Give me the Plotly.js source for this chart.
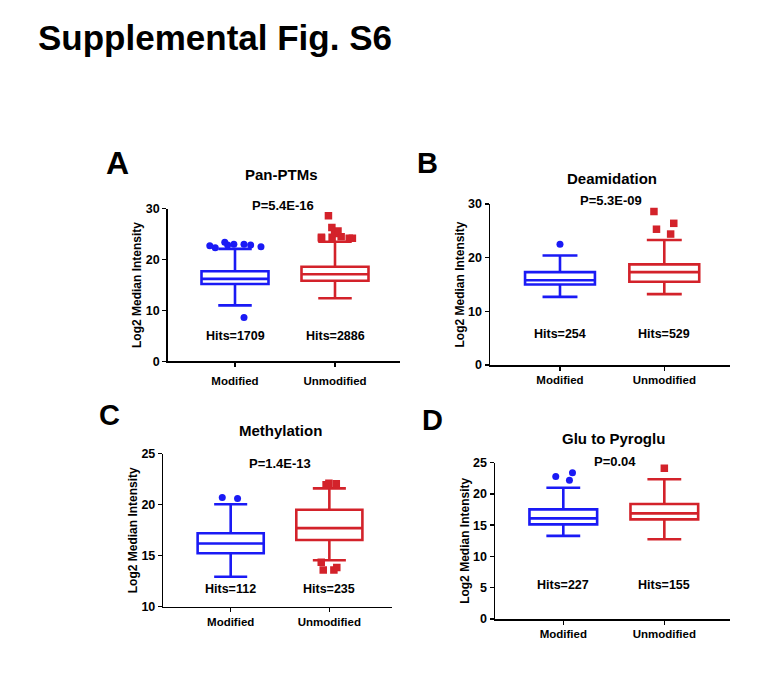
<!DOCTYPE html>
<html><head><meta charset="utf-8">
<script src="https://cdn.plot.ly/plotly-3.0.1.min.js"></script>
<style>html,body{margin:0;padding:0;background:#fff}</style>
</head><body><div id="chart" style="width:767px;height:696px"></div>
<script>
// ---------- data ----------
const groups = ['Modified', 'Unmodified'];
const panelLetters = ['A', 'B', 'C', 'D'];
const panelTitles = ['Pan-PTMs', 'Deamidation', 'Methylation', 'Glu to Pyroglu'];
const pValues = ['P=5.4E-16', 'P=5.3E-09', 'P=1.4E-13', 'P=0.04'];
const hitsModified = [1709, 254, 112, 227];
const hitsUnmodified = [2886, 529, 235, 155];

// box statistics per panel: [Modified, Unmodified]
const q1Values      = [[15.2, 15.85], [15.0, 15.5], [15.24, 16.54], [15.14, 15.94]];
const medianValues  = [[16.2, 17.1],  [15.8, 17.3], [16.2, 17.7],   [16.1, 16.9]];
const q3Values      = [[17.7, 18.6],  [17.3, 18.75],[17.2, 19.5],   [17.54, 18.4]];
const lowerWhiskers = [[11.0, 12.4],  [12.7, 13.2], [12.94, 14.55], [13.3, 12.75]];
const upperWhiskers = [[22.1, 23.5],  [20.4, 23.3], [20.05, 21.6],  [21.0, 22.35]];

const outliersModified = [
  [23.0, 23.0, 22.7, 22.85, 22.3, 22.85, 22.5, 23.4, 8.6],
  [22.5],
  [20.6, 20.7],
  [23.4, 22.8, 22.2]
];
const outliersUnmodified = [
  [24.2, 26.3, 25.1, 24.2, 28.6, 24.5, 25.6, 24.4, 24.4, 24.2],
  [28.6, 26.4, 25.3, 24.4],
  [22.1, 21.95, 22.05, 13.6, 14.35, 13.85, 13.6],
  [24.1]
];

const yRanges = [[0, 30], [0, 30], [10, 25], [0, 25]];
const yDticks = [10, 10, 5, 5];

// ---------- styling / layout geometry ----------
const W = 767, H = 696;
const px = x => x / W;
const py = y => 1 - y / H;
const FONT = 'Arial, "Liberation Sans", Helvetica, sans-serif';
const BLUE = '#1a1af5';
const RED = '#d3222a';

const geom = [
  {xd: [167.7, 400], yd: [361.3, 208.7], xr: [-0.673, 1.65],  jit: 1.0,  lstand: 4},
  {xd: [490, 730],   yd: [365, 204],     xr: [-0.671, 1.63],  jit: 0.35, lstand: 0},
  {xd: [163.3, 392], yd: [606.7, 453.7], xr: [-0.683, 1.635], jit: 0.4,  lstand: 0},
  {xd: [495, 730],   yd: [619, 462.7],   xr: [-0.676, 1.65],  jit: 0.35, lstand: 0}
];
const titlePos  = [[281.7, 175], [612.3, 178.3], [280, 430], [613.5, 438.3]];
const pPos      = [[282.5, 205.7], [611.2, 201], [279.7, 463.3], [615, 461.7]];
const hitsY     = [336, 334, 589.3, 585.3];
const letterPos = [[117, 163.3, 32], [427.5, 163.3, 29], [109.2, 415, 29], [432.5, 420, 29]];

const traces = [];
const layout = {
  width: W, height: H,
  margin: {l: 0, r: 0, t: 0, b: 0},
  paper_bgcolor: '#fff', plot_bgcolor: 'rgba(0,0,0,0)',
  showlegend: false,
  font: {family: FONT, color: '#000'},
  annotations: []
};

layout.annotations.push({
  text: 'Supplemental Fig. S6', xref: 'paper', yref: 'paper',
  x: px(215), y: py(37.7), xanchor: 'center', yanchor: 'middle', showarrow: false,
  font: {family: FONT, size: 35, weight: 700, color: '#000'}
});

for (let p = 0; p < 4; p++) {
  const sfx = p === 0 ? '' : String(p + 1);
  const xa = 'x' + sfx, ya = 'y' + sfx;
  const g = geom[p];
  const outs = [outliersModified[p], outliersUnmodified[p]];
  for (let k = 0; k < 2; k++) {
    const col = k === 0 ? BLUE : RED;
    traces.push({
      type: 'box', xaxis: xa, yaxis: ya,
      x: [groups[k]],
      q1: [q1Values[p][k]], median: [medianValues[p][k]], q3: [q3Values[p][k]],
      lowerfence: [lowerWhiskers[p][k]], upperfence: [upperWhiskers[p][k]],
      y: [outs[k]],
      boxpoints: 'outliers', jitter: g.jit, pointpos: 0,
      width: 0.67, whiskerwidth: 0.5,
      line: {color: col, width: 2.6},
      fillcolor: '#ffffff',
      marker: {color: col, size: k === 0 ? 7 : 7.5, symbol: k === 0 ? 'circle' : 'square', line: {width: 0}},
      hoverinfo: 'y'
    });
  }
  layout['xaxis' + sfx] = {
    domain: [px(g.xd[0]), px(g.xd[1])], anchor: ya,
    type: 'category', categoryorder: 'array', categoryarray: groups,
    range: g.xr, showline: true, linecolor: '#000', linewidth: 1.5,
    ticks: 'outside', ticklen: 4, tickwidth: 1.5, tickcolor: '#000',
    showgrid: false, zeroline: false, fixedrange: true,
    ticklabelstandoff: g.lstand,
    tickfont: {family: FONT, size: 11.5, weight: 700, color: '#000'}
  };
  layout['yaxis' + sfx] = {
    domain: [py(g.yd[0]), py(g.yd[1])], anchor: xa,
    range: yRanges[p], dtick: yDticks[p], tick0: 0,
    showline: true, linecolor: '#000', linewidth: 1.5,
    ticks: 'outside', ticklen: 4, tickwidth: 1.5, tickcolor: '#000',
    showgrid: false, zeroline: false, fixedrange: true,
    tickfont: {family: FONT, size: 12.5, weight: 700, color: '#000'},
    title: {text: 'Log2 Median Intensity', standoff: 1,
            font: {family: FONT, size: 12, weight: 700, color: '#000'}}
  };
  layout.annotations.push({
    text: panelLetters[p], xref: 'paper', yref: 'paper',
    x: px(letterPos[p][0]), y: py(letterPos[p][1]), xanchor: 'center', yanchor: 'middle',
    showarrow: false, font: {family: FONT, size: letterPos[p][2], weight: 700, color: '#000'}
  });
  layout.annotations.push({
    text: panelTitles[p], xref: 'paper', yref: 'paper',
    x: px(titlePos[p][0]), y: py(titlePos[p][1]), xanchor: 'center', yanchor: 'middle',
    showarrow: false, font: {family: FONT, size: 15, weight: 700, color: '#000'}
  });
  layout.annotations.push({
    text: pValues[p], xref: 'paper', yref: 'paper',
    x: px(pPos[p][0]), y: py(pPos[p][1]), xanchor: 'center', yanchor: 'middle',
    showarrow: false, font: {family: FONT, size: 13, weight: 700, color: '#000'}
  });
  const hits = [hitsModified[p], hitsUnmodified[p]];
  for (let k = 0; k < 2; k++) {
    layout.annotations.push({
      text: 'Hits=' + hits[k], xref: xa, yref: 'paper',
      x: groups[k], y: py(hitsY[p]), xanchor: 'center', yanchor: 'middle',
      showarrow: false, font: {family: FONT, size: 12.5, weight: 700, color: '#000'}
    });
  }
}

Plotly.newPlot('chart', traces, layout, {staticPlot: true, displayModeBar: false});
</script></body></html>
